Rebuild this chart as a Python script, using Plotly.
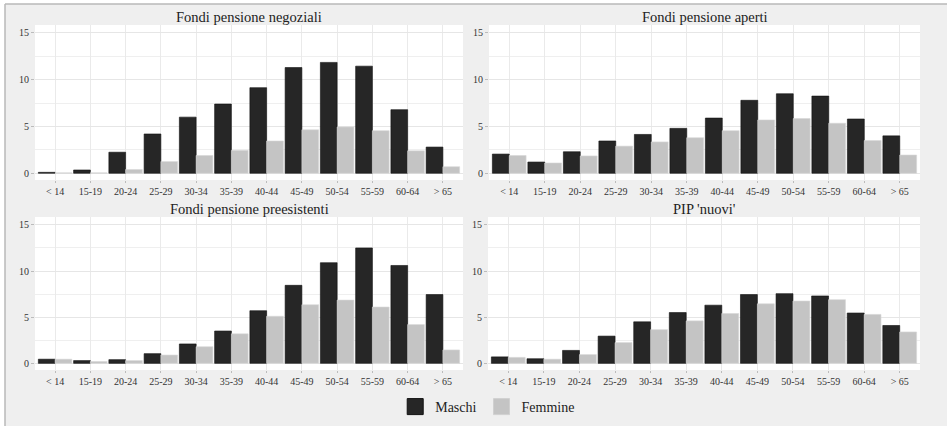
import plotly.graph_objects as go

categories = ["< 14", "15-19", "20-24", "25-29", "30-34", "35-39", "40-44",
              "45-49", "50-54", "55-59", "60-64", "> 65"]

panel_titles = ["Fondi pensione negoziali", "Fondi pensione aperti",
                "Fondi pensione preesistenti", "PIP 'nuovi'"]

negoziali_maschi = [0.1, 0.35, 2.25, 4.2, 6.0, 7.4, 9.15, 11.3, 11.85, 11.45, 6.8, 2.8]
negoziali_femmine = [0.05, 0.05, 0.4, 1.25, 1.9, 2.45, 3.45, 4.65, 4.95, 4.55, 2.4, 0.7]

aperti_maschi = [2.05, 1.2, 2.3, 3.45, 4.15, 4.8, 5.9, 7.8, 8.5, 8.25, 5.8, 4.0]
aperti_femmine = [1.9, 1.1, 1.85, 2.9, 3.35, 3.8, 4.55, 5.7, 5.85, 5.35, 3.5, 1.95]

preesistenti_maschi = [0.45, 0.3, 0.4, 1.05, 2.1, 3.5, 5.7, 8.45, 10.9, 12.5, 10.6, 7.45]
preesistenti_femmine = [0.45, 0.2, 0.3, 0.9, 1.8, 3.2, 5.1, 6.35, 6.85, 6.1, 4.2, 1.45]

pip_maschi = [0.7, 0.5, 1.4, 2.95, 4.5, 5.5, 6.3, 7.45, 7.55, 7.3, 5.45, 4.1]
pip_femmine = [0.65, 0.45, 0.95, 2.25, 3.65, 4.6, 5.4, 6.45, 6.75, 6.9, 5.3, 3.4]

y_ticks = [0, 5, 10, 15]

series = [
    (negoziali_maschi, negoziali_femmine),
    (aperti_maschi, aperti_femmine),
    (preesistenti_maschi, preesistenti_femmine),
    (pip_maschi, pip_femmine),
]

W, H = 947, 426
# panel pixel boxes: (left, right, top, bottom)
boxes = [(35, 463, 25, 180), (489, 920, 25, 180),
         (35, 463, 217, 370), (488, 920, 217, 370)]
title_y = [17, 17, 209, 209]

DARK = "#262626"
LIGHT = "#c4c4c4"
FONT = "Liberation Serif, Times New Roman, serif"

fig = go.Figure()
layout = {}
annotations = []
for i, ((m, f), (l, r, t, b)) in enumerate(zip(series, boxes)):
    idx = "" if i == 0 else str(i + 1)
    xa, ya = "x" + idx, "y" + idx
    fig.add_trace(go.Bar(x=categories, y=m, name="Maschi", marker_color=DARK,
                         marker_line=dict(color="#111111", width=0.6),
                         xaxis=xa, yaxis=ya, showlegend=False))
    fig.add_trace(go.Bar(x=categories, y=f, name="Femmine", marker_color=LIGHT,
                         marker_line=dict(color="#d6d6d6", width=0.6),
                         xaxis=xa, yaxis=ya, showlegend=False))
    layout["xaxis" + idx] = dict(
        domain=[l / W, r / W], anchor=ya, type="category",
        categoryorder="array", categoryarray=categories,
        range=[-0.57, 11.57], showgrid=True, gridcolor="#eaeaea", gridwidth=1,
        ticks="outside", ticklen=2, tickcolor="#bbbbbb", tickwidth=1,
        tickfont=dict(family=FONT, size=10, color="#333333"),
        showline=False, zeroline=False, fixedrange=True,
    )
    layout["yaxis" + idx] = dict(
        domain=[1 - b / H, 1 - t / H], anchor=xa,
        range=[-0.72, 15.85], tickvals=y_ticks,
        showgrid=True, gridcolor="#e6e6e6", gridwidth=1,
        minor=dict(dtick=2.5, tick0=0, showgrid=True, gridcolor="#efefef", ticks=""),
        ticks="outside", ticklen=3, tickcolor="#bbbbbb", tickwidth=1,
        tickfont=dict(family=FONT, size=10, color="#333333"),
        showline=False, zeroline=False, fixedrange=True,
    )
    annotations.append(dict(
        text=panel_titles[i], x=(l + r) / 2 / W, y=1 - title_y[i] / H,
        xref="paper", yref="paper", xanchor="center", yanchor="middle",
        showarrow=False, font=dict(family=FONT, size=14.5, color="#222222"),
    ))

# legend entries
fig.add_trace(go.Scatter(x=[None], y=[None], mode="markers", name="Maschi",
                         marker=dict(symbol="square", size=16, color=DARK,
                                     line=dict(color="#111111", width=1))))
fig.add_trace(go.Scatter(x=[None], y=[None], mode="markers", name="Femmine",
                         marker=dict(symbol="square", size=16, color=LIGHT,
                                     line=dict(color="#d0d0d0", width=1))))

fig.update_layout(
    **layout,
    width=W, height=H,
    margin=dict(l=0, r=0, t=0, b=0),
    paper_bgcolor="#efefef",
    plot_bgcolor="white",
    barmode="group", bargap=0.05, bargroupgap=0,
    annotations=annotations,
    showlegend=True,
    legend=dict(orientation="h", x=0.515, y=1 - 407 / H, xanchor="center",
                yanchor="middle", bgcolor="rgba(0,0,0,0)",
                font=dict(family=FONT, size=14, color="#222222"),
                itemwidth=30, tracegroupgap=0),
    font=dict(family=FONT),
    shapes=[
        dict(type="rect", xref="paper", yref="paper", layer="above",
             x0=0, x1=5 / W, y0=0, y1=1, fillcolor="white", line=dict(width=0)),
        dict(type="rect", xref="paper", yref="paper", layer="above",
             x0=0, x1=1, y0=1 - 4 / H, y1=1, fillcolor="white", line=dict(width=0)),
        dict(type="line", xref="paper", yref="paper", layer="above",
             x0=5 / W, x1=5 / W, y0=0, y1=1 - 4 / H,
             line=dict(color="#b8b8b8", width=1.5)),
        dict(type="line", xref="paper", yref="paper", layer="above",
             x0=5 / W, x1=1, y0=1 - 4 / H, y1=1 - 4 / H,
             line=dict(color="#b8b8b8", width=1.5)),
    ],
)

fig.write_html("out.html",
               config={"displayModeBar": False},
               post_script="document.body.style.margin='0px';document.body.style.overflow='hidden';")
